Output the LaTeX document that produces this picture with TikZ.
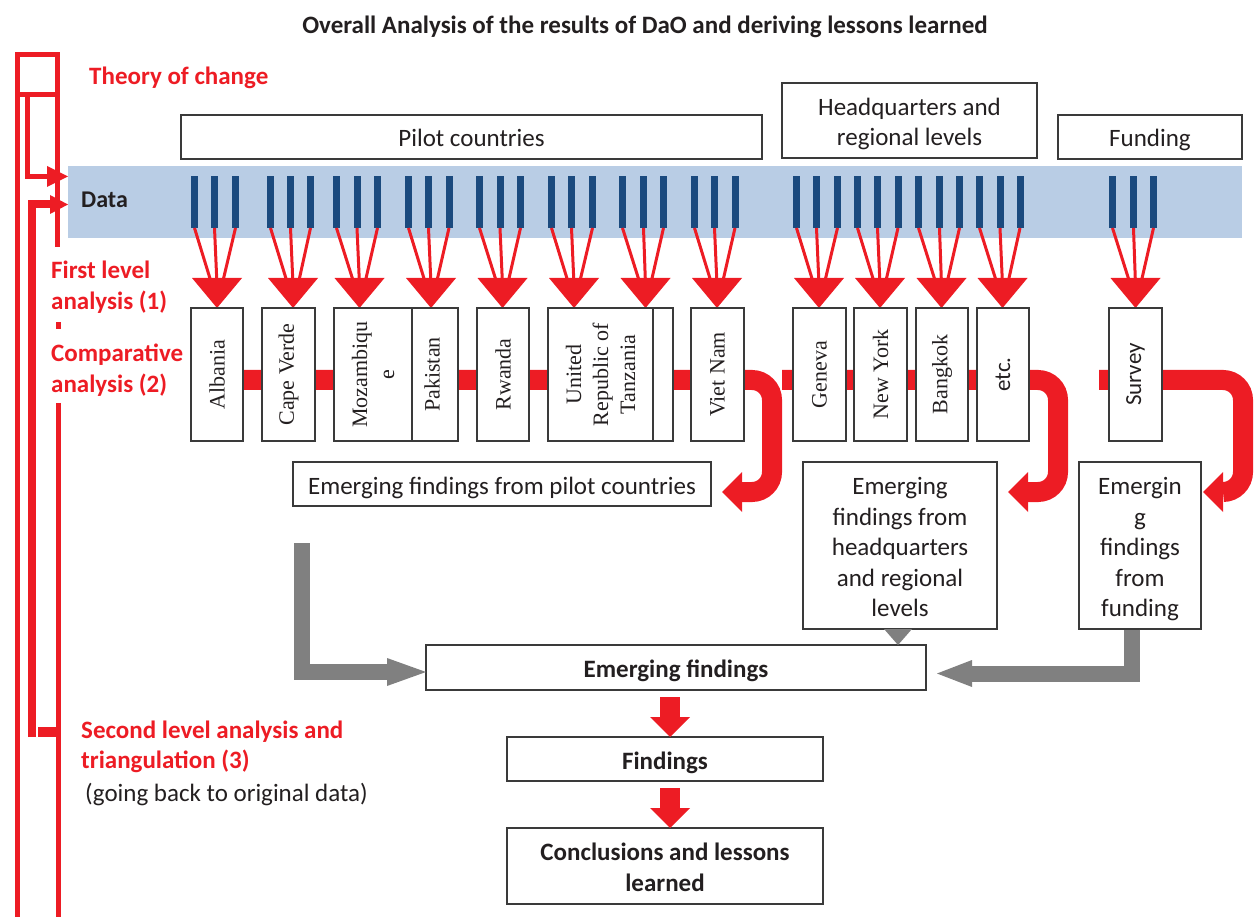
\documentclass[tikz,border=0pt]{standalone}
\usepackage{fontspec}
\setmainfont{Carlito}
\newfontfamily\serifc{Liberation Serif}
\definecolor{myred}{HTML}{ED1C24}
\definecolor{barblue}{HTML}{1B4A7E}
\definecolor{band}{HTML}{B9CDE5}
\definecolor{gr}{HTML}{808080}
\definecolor{boxc}{HTML}{3A3A3A}
\definecolor{txt}{HTML}{231F20}
\newcommand{\boxstrutA}{\rule[-7.5pt]{0pt}{35pt}}
\newcommand{\boxstrutB}{\rule[-4pt]{0pt}{4pt}}
\tikzset{
  box/.style={draw=boxc, line width=1.2pt, fill=white, inner sep=0pt, align=center, text=txt, font=\fontsize{25}{30.5}\selectfont,
    execute at begin node=\boxstrutA, execute at end node=\boxstrutB},
  bbox/.style={box, font=\bfseries\fontsize{25}{30.5}\selectfont},
  cbox/.style={draw=boxc, line width=1.2pt, fill=white, inner sep=0pt, align=center, rotate=90, minimum width=133pt, text=txt, font=\serifc\fontsize{22}{27}\selectfont},
  sbox/.style={cbox, font=\fontsize{23}{27}\selectfont},
  redlbl/.style={text=myred, font=\bfseries\fontsize{25}{30.5}\selectfont, align=left, inner sep=0pt, anchor=west},
  redbar/.style={draw=myred, line width=20pt},
  brk/.style={draw=myred, line width=5pt},
  grbar/.style={draw=gr, line width=16pt},
}
\begin{document}
\begin{tikzpicture}[x=1pt,y=-1pt]
\useasboundingbox (0,0) rectangle (1254,917);

% title
\node[font=\bfseries\fontsize{25}{30}\selectfont, text=txt] (title) at (645,27) {Overall Analysis of the results of DaO and deriving lessons learned};

% header boxes
\node[box, minimum width=581pt, minimum height=44pt] (pilot) at (471.5,137) {Pilot countries};
\node[box, minimum width=255pt, minimum height=75pt] (hq) at (909.5,120.5) {\boxstrutA Headquarters and\\regional levels};
\node[box, minimum width=184pt, minimum height=44pt] (fund) at (1150,137) {Funding};

% data band
\node[fill=band, minimum width=1174pt, minimum height=72pt, inner sep=0pt] (data) at (655,202) {};
\node[font=\bfseries\fontsize{24}{28}\selectfont, text=txt, anchor=west, inner sep=0pt] (datalbl) at (81,200) {Data};

% bars, converging lines and triangles
\foreach \a/\b/\c/\t in {194.5/214.5/235.5/217, 270.5/290.5/310.5/293, 336.5/357/377.5/359.5, 408.5/428.5/449/431, 479.5/500/520.5/502.5, 551.5/571.5/592.5/574, 622.5/643.5/663.5/645.5, 694.5/714.5/735/717, 796.5/816.5/837.5/819, 857.5/877.5/898/880, 918.5/939.5/959.5/941.5, 979.5/1000/1020/1002.5, 1112.5/1133.5/1153.5/1135.5}{
  \foreach \x/\o in {\a/-5,\b/0,\c/5}{
    \fill[barblue] (\x-3.5,176) rectangle (\x+3.5,228);
    \draw[myred, line width=3pt] (\x,228) -- (\t+\o,285);
  }
  \fill[myred] (\t-25,278) -- (\t+25,278) -- (\t,308) -- cycle;
}

% comparative red bars with curved arrows
\coordinate (p1) at (217,380);
\coordinate (p2) at (782,380);
\coordinate (p3) at (1099,380);
\draw[redbar, rounded corners=20pt] (p1) -| (772,492) -- (742,492);
\fill[myred] (742,472) -- (722,492) -- (742,512) -- cycle;
\draw[redbar, rounded corners=20pt] (p2) -| (1058,492) -- (1028,492);
\fill[myred] (1028,472) -- (1008,492) -- (1028,512) -- cycle;
\draw[redbar, rounded corners=20pt] (p3) -| (1243,492) -- (1223,492);
\fill[myred] (1223,472) -- (1203,492) -- (1223,512) -- cycle;

% country / location boxes
\node[cbox, minimum height=52pt] (albania) at (217,374.5) {Albania};
\node[cbox, minimum height=53pt] (capeverde) at (288.5,374.5) {Cape Verde};
\node[cbox, minimum height=52pt] (pakistan) at (432,374.5) {Pakistan};
\node[cbox, minimum height=78pt] (mozambique) at (373,374.5) {Mozambiqu\\e};
\node[cbox, minimum height=52pt] (rwanda) at (503,374.5) {Rwanda};
\node[cbox, minimum height=54pt] (hidden) at (646,374.5) {};
\node[cbox, minimum height=105pt] (tanzania) at (600.5,374.5) {United\\Republic of\\Tanzania};
\node[cbox, minimum height=53pt] (vietnam) at (717.5,374.5) {Viet Nam};
\node[cbox, minimum height=53pt] (geneva) at (819.5,374.5) {Geneva};
\node[cbox, minimum height=53pt] (newyork) at (880.5,374.5) {New York};
\node[cbox, minimum height=52pt] (bangkok) at (942,374.5) {Bangkok};
\node[sbox, minimum height=52pt] (etc) at (1003,374.5) {etc.};
\node[sbox, minimum height=53pt] (survey) at (1135.5,374.5) {Survey};

% emerging findings boxes
\node[box, minimum width=418pt, minimum height=44pt] (efp) at (502,484) {Emerging findings from pilot countries};
\node[box, minimum width=194pt, minimum height=167pt] (efhq) at (900,545.5) {\boxstrutA Emerging\\findings from\\headquarters\\and regional\\levels};
\node[box, minimum width=122pt, minimum height=167pt] (eff) at (1140,545.5) {\boxstrutA Emergin\\g\\findings\\from\\funding};

\node[bbox, minimum width=500pt, minimum height=45pt] (ef) at (676,667.5) {Emerging findings};
\node[bbox, minimum width=316pt, minimum height=44pt] (find) at (665,759) {Findings};
\node[bbox, minimum width=316pt, minimum height=76pt] (concl) at (665,866) {\boxstrutA Conclusions and lessons\\learned};

% gray arrows
\draw[grbar] (302,543) |- (388,672);
\fill[gr] (387,658) -- (426,672) -- (387,686) -- cycle;
\draw[grbar] (eff.south -| 1132,0) |- (971,673.5);
\fill[gr] (972,660) -- (937,673.5) -- (972,687) -- cycle;
\fill[gr] (884,629) -- (912,629) -- (898,645) -- cycle;

% red down arrows
\fill[myred] (660,697) rectangle (680,717);
\fill[myred] (650,717) -- (690,717) -- (670,737) -- cycle;
\fill[myred] (660,788) rectangle (680,808);
\fill[myred] (650,808) -- (690,808) -- (670,828) -- cycle;

% left bracket structure
\draw[brk] (17.5,54.5) rectangle (57.5,94.5);
\draw[brk] (17.5,94.5) -- (17.5,920);
\draw[brk] (57.5,94.5) -- (57.5,247);
\draw[brk] (58.5,403) -- (58.5,920);
\fill[myred] (56,322) rectangle (61,329);
\draw[brk, line join=miter] (27.5,97) |- (48,176.5);
\fill[myred] (47,166) -- (68,176.5) -- (47,187) -- cycle;
\draw[draw=myred, line width=8pt] (32,737) |- (51,204.5);
\fill[myred] (50,195) -- (68,204.5) -- (50,214) -- cycle;
\fill[myred] (38,727) rectangle (56,737);

% left labels
\node[redlbl] (toc) at (89,78) {Theory of change};
\node[redlbl] (fla) at (51,287) {First level\\analysis (1)};
\node[redlbl] (ca) at (51,370) {Comparative\\analysis (2)};
\node[redlbl] (sla) at (81,763) {Second level analysis and\\triangulation (3)\\[2pt]{\mdseries\color{txt}\hspace*{4pt}(going back to original data)}};
\end{tikzpicture}
\end{document}
